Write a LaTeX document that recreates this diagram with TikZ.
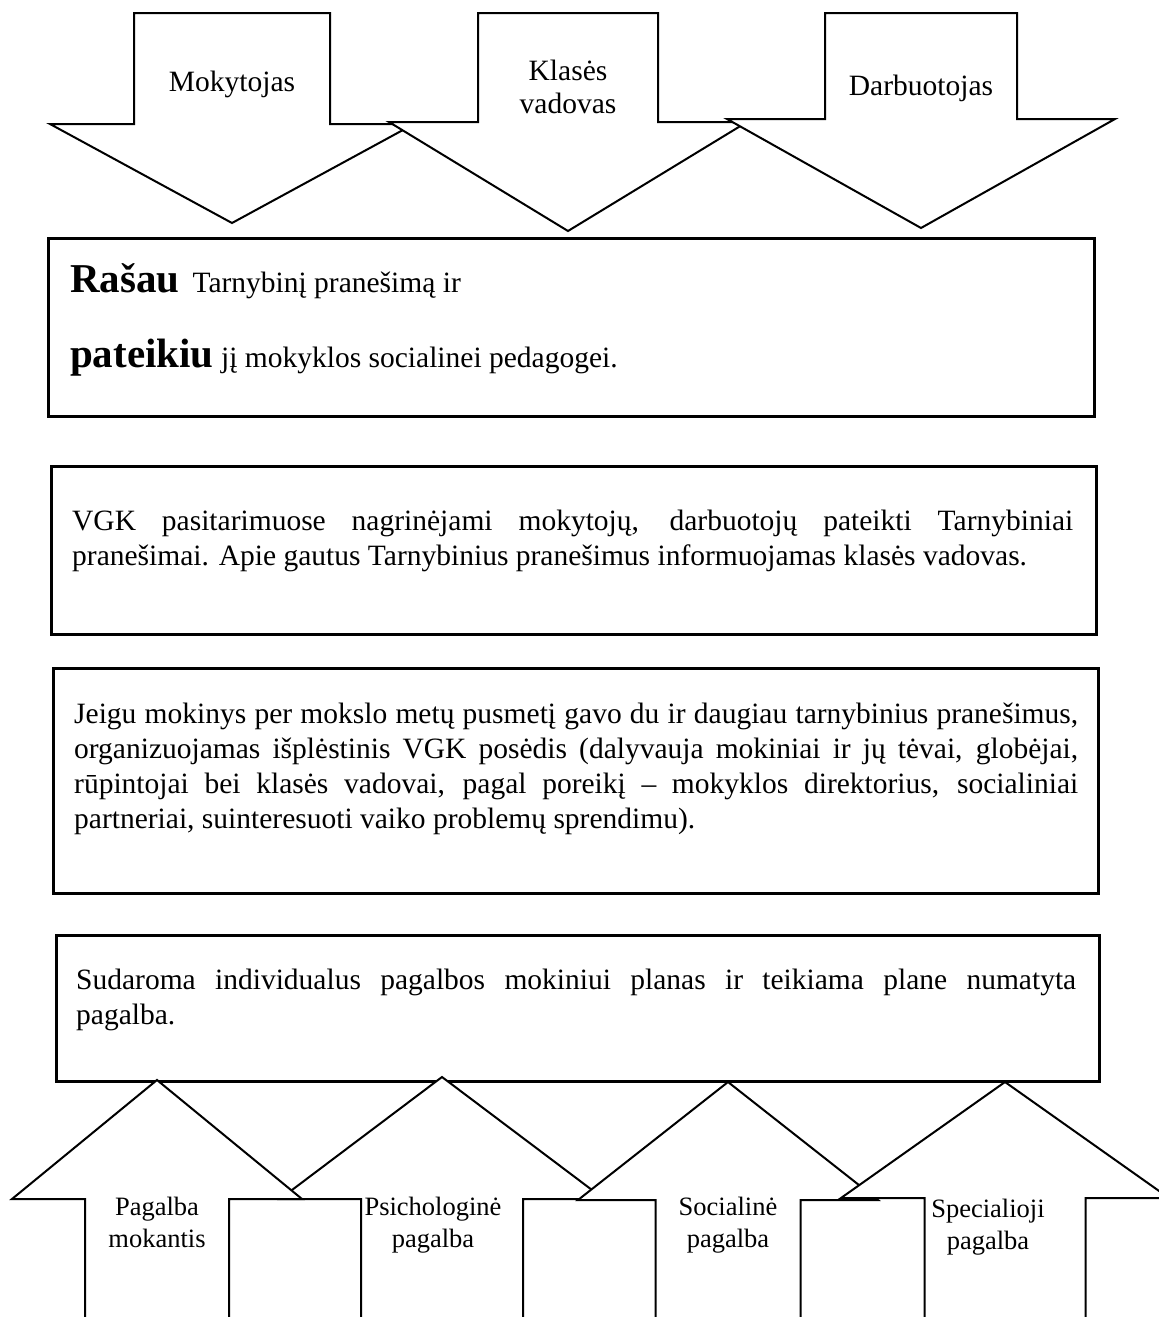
\documentclass[tikz,border=0pt]{standalone}
\usepackage{fontspec}
\setmainfont{Liberation Serif}
\usepackage{tikz}
\usetikzlibrary{positioning}

\newcommand\bodysize{\fontsize{29.5}{35}\selectfont\tolerance=10000\hyphenpenalty=10000\relax}
\newcommand\bigword{\bfseries\fontsize{41}{41}\selectfont}

\begin{document}
\begin{tikzpicture}
  [x=1pt,y=-1pt,line join=miter,
   blockarrow/.style={draw,fill=white,line width=2pt},
   box/.style={draw,line width=2.6pt,anchor=north west,inner sep=0pt},
   boxline/.style={anchor=base west,inner sep=0pt,font=\bodysize},
   boxtext/.style={anchor=base west,inner sep=0pt,align=justify,font=\bodysize},
   toplabel/.style={anchor=base,inner sep=0pt,text width=200pt,align=center,font=\fontsize{29.5}{33}\selectfont},
   botlabel/.style={anchor=base,inner sep=0pt,text width=160pt,align=center,font=\fontsize{26.5}{32}\selectfont}]
  \path[use as bounding box,fill=white] (0,0) rectangle (1159,1317);

  % arrows into the first box
  \foreach \cx/\sw/\hw/\by/\ty in {232/98/182/124/223, 568/90/179/122/231, 921/96/194/119/228}
    \draw[blockarrow] ({\cx-\sw},13) -- ({\cx+\sw},13) -- ({\cx+\sw},\by) -- ({\cx+\hw},\by)
      -- (\cx,\ty) -- ({\cx-\hw},\by) -- ({\cx-\sw},\by) -- cycle;
  \node[toplabel] (mok) at (232,91) {Mokytojas};
  \node[toplabel] (klas) at (568,80) {Klasės\\vadovas};
  \node[toplabel] (darb) at (921,95) {Darbuotojas};

  % boxes
  \node[box,minimum width=1046pt,minimum height=178pt] (report) at (47,237) {};
  \node[box,minimum width=1045pt,minimum height=168pt] (vgk) at (50,465) {};
  \node[box,minimum width=1045pt,minimum height=225pt] (meeting) at (52,667) {};
  \node[box,minimum width=1043pt,minimum height=146pt] (plan) at (55,934) {};

  \node[boxline] (rasau) at (70,292) {{\bigword Rašau}\hspace{13pt}Tarnybinį pranešimą ir};
  \node[boxline] (pateikiu) at (70,367) {{\bigword pateikiu} jį mokyklos socialinei pedagogei.};
  \node[boxtext,text width=1001pt] (vgktext) at (72,530) {VGK pasitarimuose nagrinėjami mokytojų, darbuotojų pateikti Tarnybiniai\linebreak
    pranešimai. Apie gautus Tarnybinius pranešimus informuojamas klasės vadovas.};
  \node[boxtext,text width=1004pt] (meettext) at (74,723) {Jeigu mokinys per mokslo metų pusmetį gavo du ir daugiau tarnybinius pranešimus,\linebreak
    organizuojamas išplėstinis VGK posėdis (dalyvauja mokiniai ir jų tėvai, globėjai,\linebreak
    rūpintojai bei klasės vadovai, pagal poreikį – mokyklos direktorius, socialiniai\linebreak
    partneriai, suinteresuoti vaiko problemų sprendimu).};
  \node[boxtext,text width=1000pt] (plantext) at (76,989) {Sudaroma individualus pagalbos mokiniui planas ir teikiama plane numatyta\linebreak
    pagalba.};

  % arrows of help
  \foreach \cx/\sw/\hw/\by/\ty in {442/81/162/1199/1077, 157/72/145/1199/1080, 728/72.5/150/1200/1082, 1005/80.5/164/1198/1082}
    \draw[blockarrow] ({\cx-\sw},1325) -- ({\cx-\sw},\by) -- ({\cx-\hw},\by) -- (\cx,\ty)
      -- ({\cx+\hw},\by) -- ({\cx+\sw},\by) -- ({\cx+\sw},1325);
  \node[botlabel] (mokym) at (157,1215) {Pagalba\\mokantis};
  \node[botlabel] (psich) at (433,1215) {Psichologinė\\pagalba};
  \node[botlabel] (soc) at (728,1215) {Socialinė\\pagalba};
  \node[botlabel] (spec) at (988,1217) {Specialioji\\pagalba};
\end{tikzpicture}
\end{document}
